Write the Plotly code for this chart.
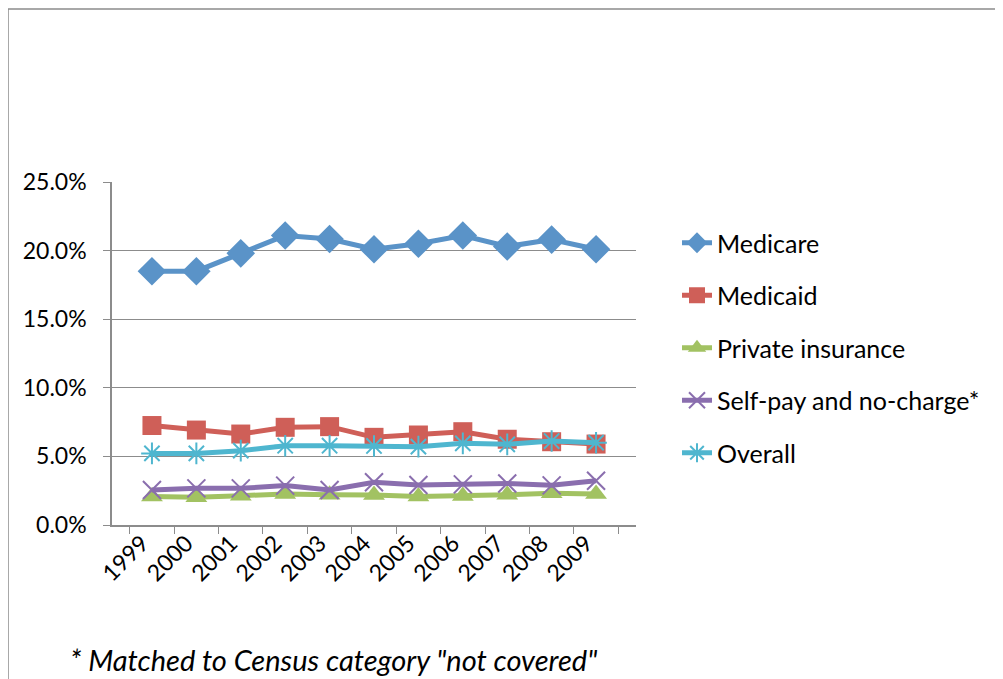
import plotly.graph_objects as go

years = ["1999", "2000", "2001", "2002", "2003", "2004", "2005", "2006", "2007", "2008", "2009"]
medicare = [18.5, 18.5, 19.8, 21.1, 20.85, 20.1, 20.5, 21.1, 20.3, 20.8, 20.1]
medicaid = [7.25, 6.92, 6.63, 7.12, 7.17, 6.39, 6.56, 6.8, 6.25, 6.07, 5.9]
private_ins = [2.07, 2.02, 2.14, 2.26, 2.2, 2.19, 2.07, 2.11, 2.21, 2.31, 2.26]
self_pay = [2.55, 2.67, 2.67, 2.87, 2.55, 3.11, 2.92, 2.96, 3.03, 2.89, 3.23]
overall = [5.22, 5.22, 5.42, 5.78, 5.78, 5.76, 5.71, 5.95, 5.88, 6.12, 6.0]

series = [
    ("Medicare", medicare, "#5a93c8", "diamond", 22, 0),
    ("Medicaid", medicaid, "#cf5f58", "square", 19, 0),
    ("Private insurance", private_ins, "#a2c262", "triangle-up", 19, 0),
    ("Self-pay and no-charge*", self_pay, "#8a6eae", "x-thin-open", 18, 2),
    ("Overall", overall, "#4fb6cf", "asterisk-open", 18, 2),
]

FONT = "Lato, 'Open Sans', sans-serif"

# page body has an 8px margin; plot area target: x 112-636, y 182-525
OFF = 8
L, T = 112 - OFF, 182 - OFF
PW, PH = 524, 343
W, H = 1003 - OFF, 679 - OFF

fig = go.Figure()
for i, (name, vals, color, sym, size, mlw) in enumerate(series):
    marker = dict(symbol=sym, size=size, color=color)
    if mlw:
        marker["line"] = dict(color=color, width=mlw)
    else:
        marker["line"] = dict(width=0)
    fig.add_trace(go.Scatter(
        x=years, y=vals, name=name, mode="lines+markers",
        line=dict(color=color, width=5), marker=marker,
        legendgroup=f"g{i}",
    ))

fig.update_layout(
    width=W, height=H,
    margin=dict(l=L, r=W - L - PW, t=T, b=H - T - PH, pad=0),
    paper_bgcolor="white", plot_bgcolor="white",
    font=dict(family=FONT, size=23, color="black"),
    showlegend=True,
    legend=dict(x=(677 - 112) / PW, y=(525 - 220) / PH, xanchor="left", yanchor="top",
                font=dict(size=25, family=FONT), tracegroupgap=17,
                bgcolor="rgba(0,0,0,0)"),
    xaxis=dict(type="category", tickson="boundaries", ticks="outside", ticklen=7,
               tickcolor="#8c8c8c", showline=True, linecolor="#8c8c8c", linewidth=1.5,
               showgrid=False, tickangle=-45, tickfont=dict(size=23),
               ticklabelshift=-10, ticklabelstandoff=-6),
    yaxis=dict(range=[0, 25], dtick=5, tickformat=".1f", ticksuffix="%",
               ticks="outside", ticklen=7, tickcolor="#8c8c8c", ticklabelstandoff=12,
               showline=True, linecolor="#8c8c8c", linewidth=1.5,
               showgrid=True, gridcolor="#8c8c8c", gridwidth=1.2,
               zeroline=False, tickfont=dict(size=23)),
)

# outer chart frame
fig.add_shape(type="rect", xref="paper", yref="paper",
              x0=(8 - 112) / PW, x1=(1020 - 112) / PW,
              y0=(525 - 700) / PH, y1=(525 - 9) / PH,
              line=dict(color="#8c8c8c", width=1.5), fillcolor="rgba(0,0,0,0)", layer="below")

fig.add_annotation(xref="paper", yref="paper", x=(68 - 112) / PW, y=(525 - 659) / PH,
                   xanchor="left", yanchor="middle", showarrow=False,
                   text='<i>* Matched to Census category "not covered"</i>',
                   font=dict(size=29, family=FONT))

fig.write_html("out.html")
